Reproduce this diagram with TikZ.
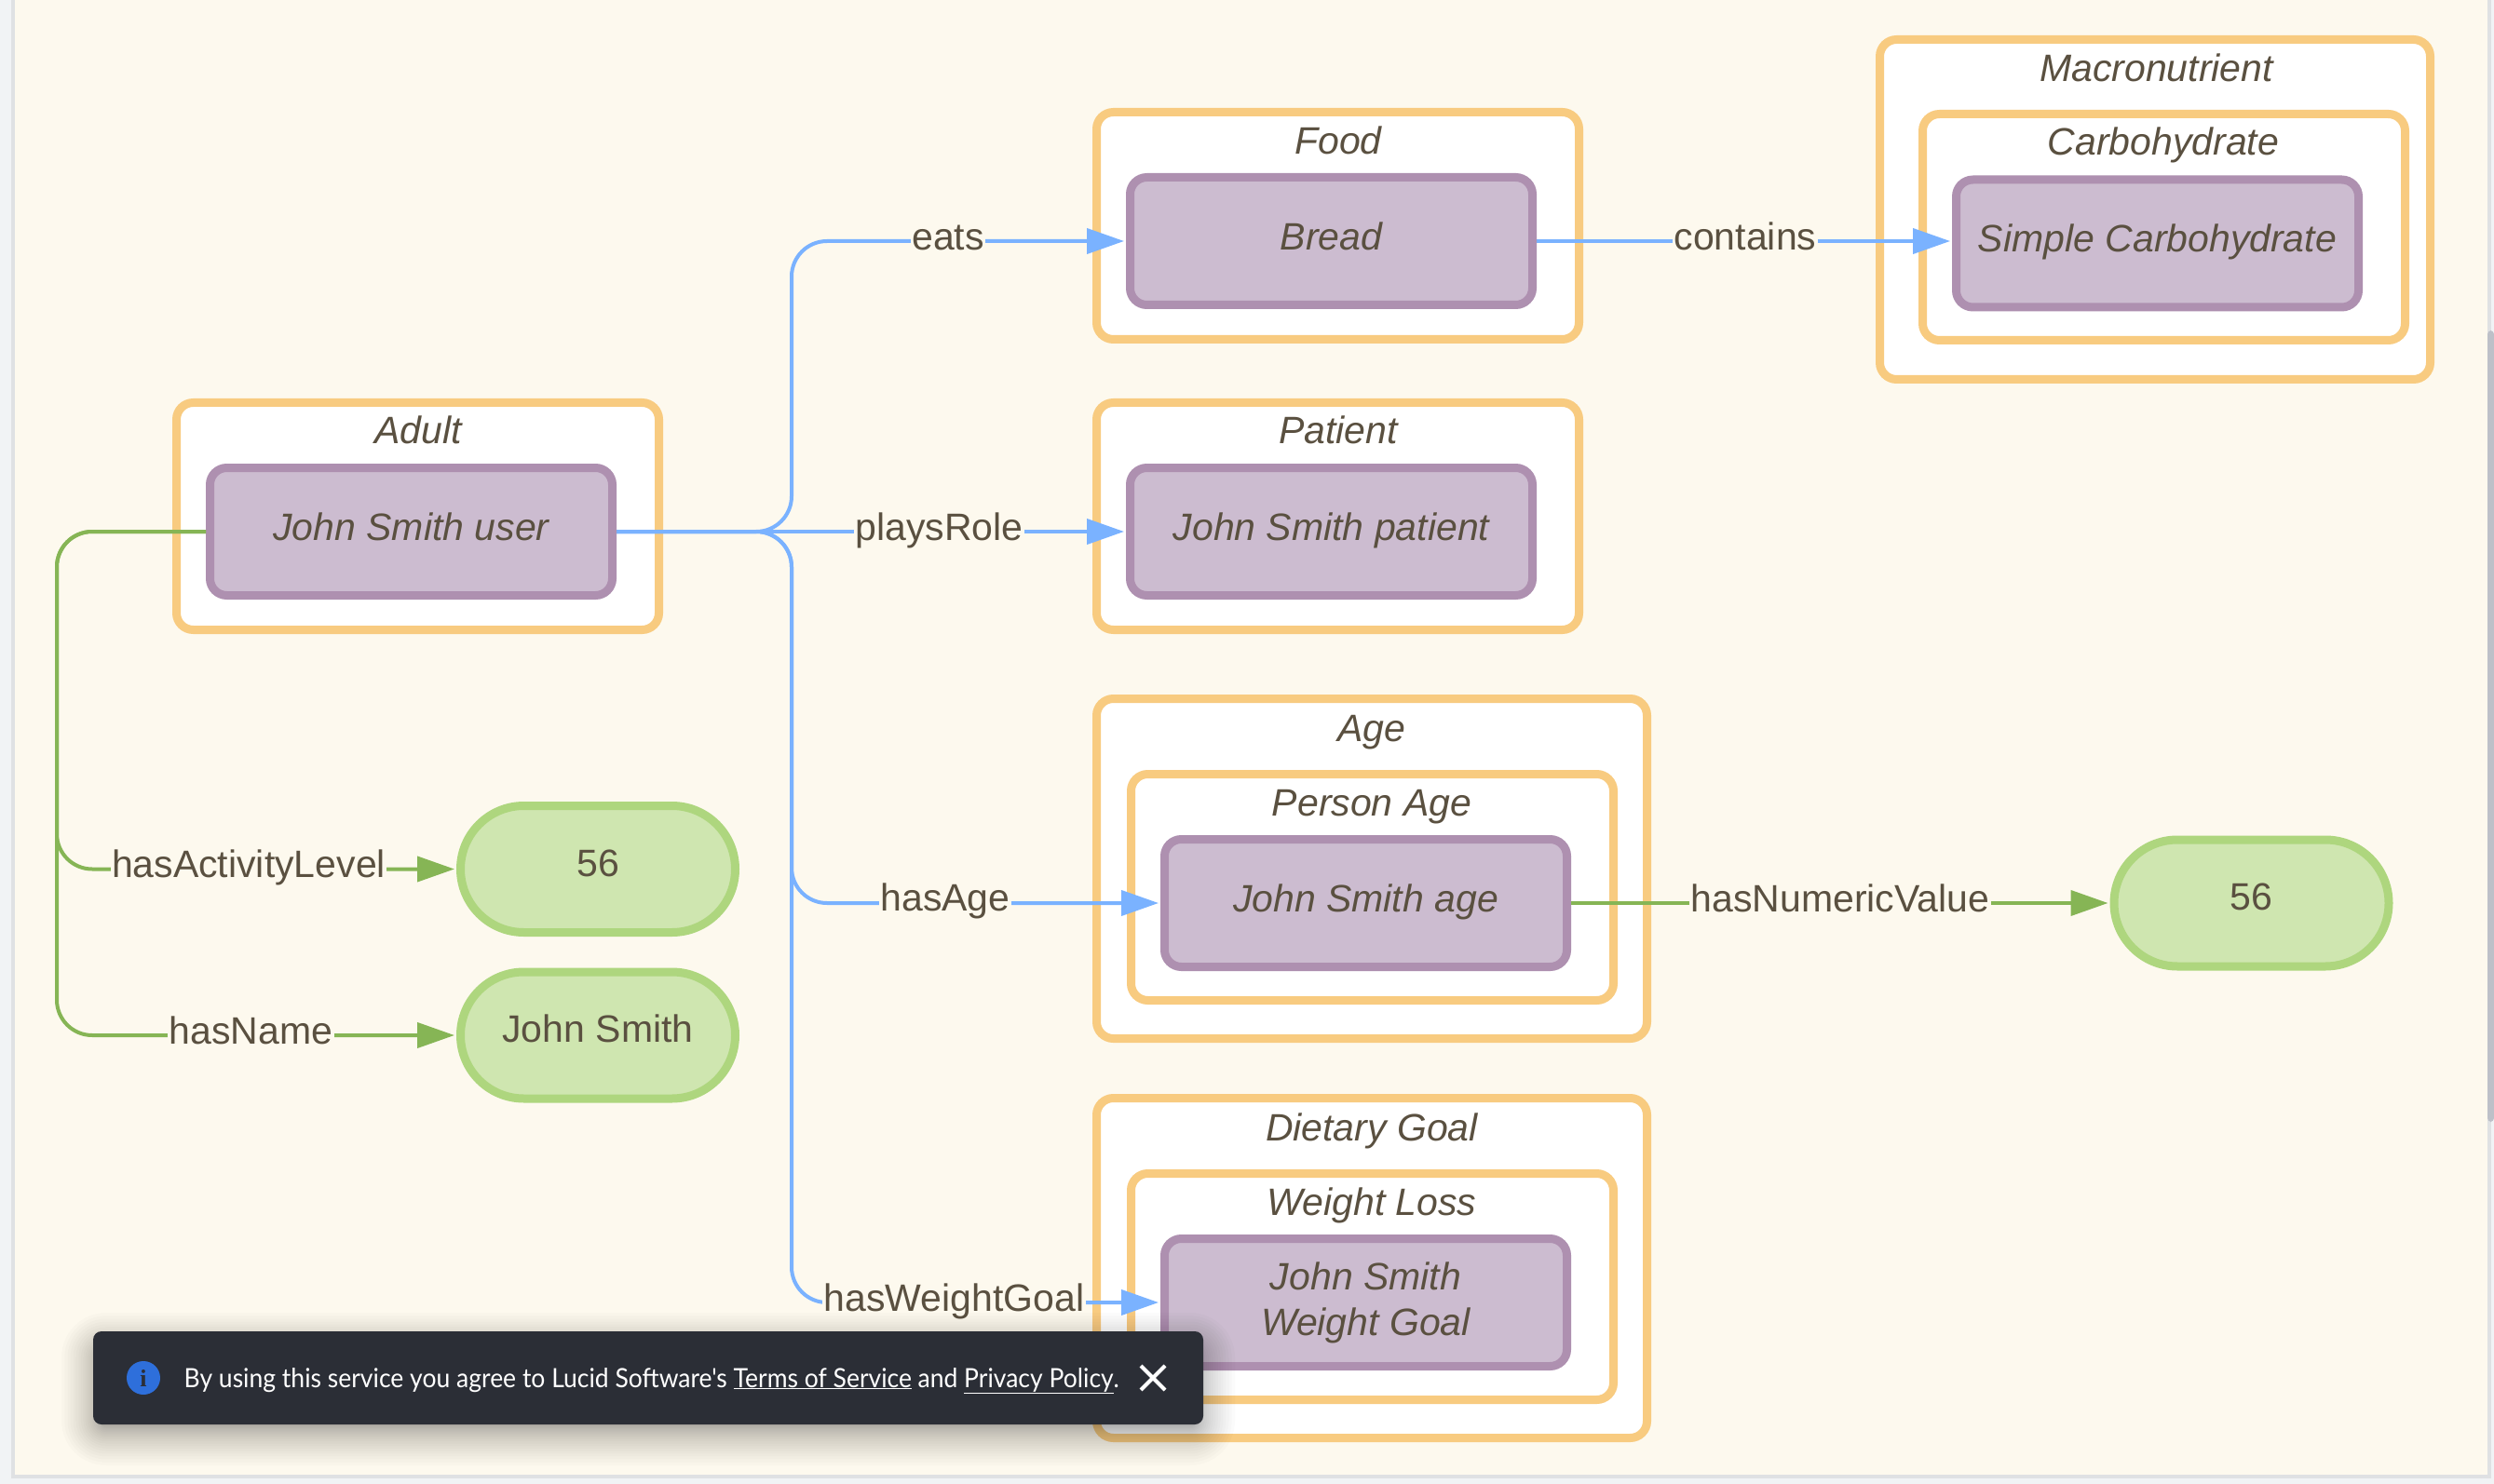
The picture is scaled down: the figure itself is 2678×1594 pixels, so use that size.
\documentclass[tikz,border=0pt]{standalone}
\usepackage{fontspec}
\setmainfont{Liberation Sans}
\newfontfamily\toastfont[FakeStretch=0.93]{Lato}
\newfontfamily\iconfont{Liberation Serif}
\usetikzlibrary{arrows.meta,calc}
\definecolor{pagebg}{HTML}{FDF9EE}
\definecolor{sidebg}{HTML}{F1F3F5}
\definecolor{edgec}{HTML}{DFE1E3}
\definecolor{ink}{HTML}{5A5040}
\definecolor{orangeln}{HTML}{F8CB80}
\definecolor{purpln}{HTML}{AE90B0}
\definecolor{purpfl}{HTML}{CCBCD0}
\definecolor{pillln}{HTML}{AED67E}
\definecolor{pillfl}{HTML}{CFE6B0}
\definecolor{greenln}{HTML}{86B555}
\definecolor{blueln}{HTML}{7AB2FF}
\definecolor{toastbg}{HTML}{2B2E36}
\definecolor{infobg}{HTML}{2E6FDB}
\definecolor{scrollc}{HTML}{BDC0C8}
\tikzset{
  x=1pt,y=-1pt,
  base font/.style={font=\fontsize{41}{49}\selectfont,text=ink},
  outerbox/.style={draw=orangeln,fill=white,line width=9pt,rounded corners=18pt,inner sep=0pt},
  instbox/.style={draw=purpln,fill=purpfl,line width=9pt,rounded corners=18pt,inner sep=0pt,
    minimum width=432pt,minimum height=137pt,base font,font=\fontsize{41}{49}\selectfont\itshape,align=center},
  oneline/.style={text height=30pt,text depth=10.5pt},
  pill/.style={draw=pillln,fill=pillfl,line width=9pt,rounded corners=68pt,inner sep=0pt,
    minimum width=295pt,minimum height=136pt,base font,text height=30pt,text depth=15pt},
  boxtitle/.style={base font,font=\fontsize{41}{49}\selectfont\itshape,anchor=base,inner sep=0pt},
  edgelabel/.style={base font,fill=pagebg,inner xsep=1.5pt,inner ysep=0pt,anchor=base},
  bluearrow/.style={draw=blueln,line width=4pt,-{Triangle[length=40pt,width=27pt,fill=blueln]}},
  greenarrow/.style={draw=greenln,line width=4pt,-{Triangle[length=40pt,width=27pt,fill=greenln]}},
  bent/.style={rounded corners=38pt},
}
\newcommand{\obox}[5]{% name, x1, y1, x2, y2 (outer edges)
  \node[outerbox,minimum width={#4-#2-9pt},minimum height={#5-#3-9pt}] (#1) at ({(#2+#4)/2},{(#3+#5)/2}) {};}
\begin{document}
\begin{tikzpicture}
\useasboundingbox (0,0) rectangle (2678,1594);
% page
\fill[sidebg] (0,0) rectangle (2678,1594);
\fill[edgec] (12,0) rectangle (2675,1588);
\fill[pagebg] (16,0) rectangle (2671,1584);
\fill[scrollc,rounded corners=4pt] (2671,355) rectangle (2678,1205);
% containers
\obox{adult}{185}{428}{712}{681}
\obox{food}{1173}{116}{1700}{369}
\obox{patient}{1173}{428}{1700}{681}
\obox{age}{1173}{746}{1773}{1120}
\obox{personage}{1210}{827}{1737}{1079}
\obox{diet}{1173}{1175}{1773}{1549}
\obox{weightloss}{1210}{1256}{1737}{1508}
\obox{macro}{2014}{38}{2614}{412}
\obox{carb}{2060}{118}{2587}{370}
% titles
\node[boxtitle] (tAdult) at (449,476.5) {Adult};
\node[boxtitle] (tFood) at (1437,165.5) {Food};
\node[boxtitle] (tPatient) at (1437,476.5) {Patient};
\node[boxtitle] (tAge) at (1473,796) {Age};
\node[boxtitle] (tPerson) at (1473,876) {Person Age};
\node[boxtitle] (tDiet) at (1473,1225) {Dietary Goal};
\node[boxtitle] (tWeight) at (1473,1305) {Weight Loss};
\node[boxtitle] (tMacro) at (2315.5,88) {Macronutrient};
\node[boxtitle] (tCarb) at (2323,167) {Carbohydrate};
% instances
\node[instbox,oneline] (user) at (441.5,571) {John Smith user};
\node[instbox,oneline] (bread) at (1429.5,259) {Bread};
\node[instbox,oneline] (jspatient) at (1429.5,571) {John Smith patient};
\node[instbox,oneline] (jsage) at (1466.5,970) {John Smith age};
\node[instbox] (jsgoal) at (1466.5,1399) {John Smith\\Weight Goal};
\node[instbox,oneline,text depth=12pt] (simple) at (2316.5,261.5) {Simple Carbohydrate};
% literals
\node[pill] (activity) at (642,933.5) {56};
\node[pill] (name) at (642,1112) {John Smith};
\node[pill] (numeric) at (2417.5,970) {56};
% helper coordinates
\coordinate (tl) at (61,571);
\coordinate (tb) at (850,571);
% green connectors
\draw[greenarrow,bent] (user.west) -- (tl) -- (tl |- activity.west) -- ($(activity.west)+(-2,0)$);
\draw[greenarrow,bent] (user.west) -- (tl) -- (tl |- name.west) -- ($(name.west)+(-2,0)$);
\draw[greenarrow] (jsage.east) -- ($(numeric.west)+(-2,0)$);
% blue connectors
\draw[bluearrow,bent] (user.east) -- (tb) -- (tb |- bread.west) -- ($(bread.west)+(-2,0)$);
\draw[bluearrow] (user.east) -- ($(jspatient.west)+(-2,0)$);
\draw[bluearrow,bent] (user.east) -- (tb) -- (tb |- jsage.west) -- ($(jsage.west)+(-2,0)$);
\draw[bluearrow,bent] (user.east) -- (tb) -- (tb |- jsgoal.west) -- ($(jsgoal.west)+(-2,0)$);
\draw[bluearrow] (bread.east) -- ($(simple.west |- bread.east)+(-2,0)$);
% edge labels
\node[edgelabel] (lActivity) at (267,942) {hasActivityLevel};
\node[edgelabel] (lName) at (269.5,1121) {hasName};
\node[edgelabel] (lNumeric) at (1976,979) {hasNumericValue};
\node[edgelabel] (lEats) at (1018,268.5) {eats};
\node[edgelabel] (lRole) at (1008.5,580) {playsRole};
\node[edgelabel] (lAge) at (1015,978.5) {hasAge};
\node[edgelabel] (lGoal) at (1024.5,1408) {hasWeightGoal};
\node[edgelabel] (lContains) at (1874,268.5) {contains};
% toast
\foreach \k in {1,...,20}{
  \pgfmathsetmacro{\spread}{42*(\k/20)^1.6}
  \fill[black,opacity=0.017,rounded corners={(6+\spread)*1pt}] ({108-\spread},{1452-\spread}) rectangle ({1284+\spread},{1532+\spread});
}
\node[fill=toastbg,rounded corners=9pt,minimum width=1192pt,minimum height=100pt,inner sep=0pt] (toast) at (696,1480) {};
\node[circle,fill=infobg,minimum size=36pt,inner sep=0pt,text=toastbg,font=\iconfont\bfseries\fontsize{26}{26}\selectfont] (info) at (154,1480) {i};
\node[anchor=base west,inner sep=0pt,text=white,font=\toastfont\fontsize{28.5}{34}\selectfont] (toasttext) at (197.5,1490) {By using this service you agree to Lucid Software's \underline{Terms of Service} and \underline{Privacy Policy}.};
\coordinate (xc) at (1238,1480);
\draw[white,line width=4pt] ($(xc)+(-13,-13)$) -- ($(xc)+(13,13)$) ($(xc)+(-13,13)$) -- ($(xc)+(13,-13)$);
\end{tikzpicture}
\end{document}
